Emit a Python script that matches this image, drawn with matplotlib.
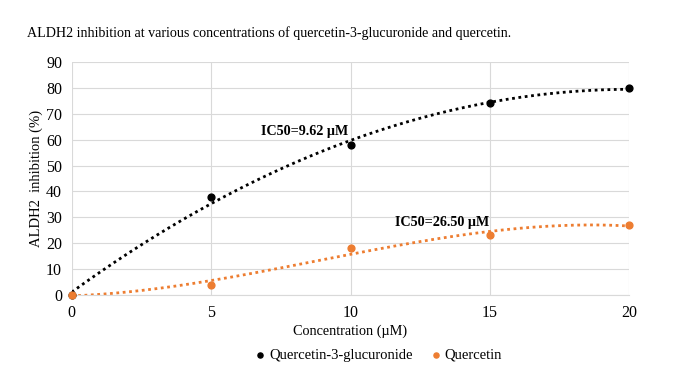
import numpy as np
import matplotlib.pyplot as plt

plt.rcParams['font.family'] = ['Liberation Serif', 'DejaVu Serif']

conc = [0, 5, 10, 15, 20]
q3g = [0, 38, 58, 74, 80]
quer = [0, 4, 18, 23, 27]
ic50_q3g = "IC50=9.62 µM"
ic50_quer = "IC50=26.50 µM"

fig = plt.figure(figsize=(6.9, 3.88), dpi=100)
ax = fig.add_axes([0.104, 0.240, 0.808, 0.600])

# trendlines (polynomial fits, like the spreadsheet did)
xs = np.linspace(0, 20, 200)
fit_black = np.polyval(np.polyfit(conc, q3g, 2), xs)
fit_orange = np.polyval(np.polyfit(conc, quer, 3), xs)
ax.plot(xs, fit_black, color='black', linestyle=(0, (1, 1.3)), linewidth=2)
ax.plot(xs, fit_orange, color='#ed7d31', linestyle=(0, (1, 1.3)), linewidth=2)

ax.scatter(conc, q3g, color='black', s=24, zorder=3, clip_on=False, label='Quercetin-3-glucuronide')
ax.scatter(conc, quer, color='#ed7d31', s=24, zorder=3, clip_on=False, label='Quercetin')

ax.text(8.35, 63, ic50_q3g, ha='center', va='center', fontsize=10.2, fontweight='bold')
ax.text(13.3, 27.8, ic50_quer, ha='center', va='center', fontsize=10.2, fontweight='bold')

ax.set_xlim(0, 20)
ax.set_ylim(0, 90)
ax.set_xticks(range(0, 21, 5))
ax.set_yticks(range(0, 91, 10))
ax.grid(True, color='#d9d9d9', linewidth=0.8)
ax.set_axisbelow(True)
for s in ax.spines.values():
    s.set_visible(False)
ax.spines['bottom'].set_visible(True)
ax.spines['bottom'].set_color('#d9d9d9')
ax.tick_params(length=0, labelsize=11.5, pad=7)

ax.set_xlabel("Concentration (µM)", fontsize=10.3, labelpad=3)
ax.set_ylabel("ALDH2  inhibition (%)", fontsize=10.5, labelpad=2)

fig.text(0.039, 0.915, "ALDH2 inhibition at various concentrations of quercetin-3-glucuronide and quercetin.",
         fontsize=10.1, va='center')

fig.legend(loc='center', bbox_to_anchor=(0.542, 0.085), ncol=2, frameon=False, fontsize=10.5,
           handletextpad=-0.4, columnspacing=0.6, markerscale=0.75)

fig.savefig('out.png', dpi=100)
